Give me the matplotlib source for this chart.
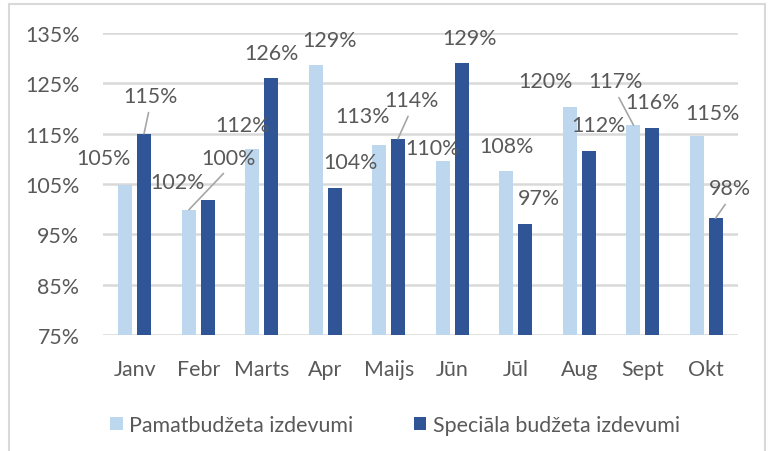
import matplotlib.pyplot as plt
from matplotlib.patches import Rectangle
import numpy as np

# data
months = ['Janv', 'Febr', 'Marts', 'Apr', 'Maijs', 'Jūn', 'Jūl', 'Aug', 'Sept', 'Okt']
pamat = [104.9, 99.9, 112.0, 128.6, 112.8, 109.5, 107.6, 120.2, 116.7, 114.6]
special = [115.0, 101.8, 126.0, 104.2, 114.0, 129.0, 97.1, 111.6, 116.2, 98.2]
series_names = ['Pamatbudžeta izdevumi', 'Speciāla budžeta izdevumi']

# label placement (pixel offsets from bar top) and which ones get leader lines
pamat_off = [(-22, 27), (40, 52), (-10, 24), (14, 25), (-17, 29),
             (-10, 13), (0, 25), (-24, 26), (-18, 44), (16, 23)]
pamat_lead = [False, True, False, False, False, False, False, False, True, False]
special_off = [(6, 38), (-30, 18), (0, 25), (16, 26), (13, 39),
               (8, 25), (14, 26), (10, 26), (0, 26), (14, 30)]
special_lead = [True, False, False, False, True, False, False, False, False, True]

LIGHT = '#BDD7EE'
DARK = '#2F5597'
TEXT = '#595959'
GRID = '#D9D9D9'
FS = 15.4

plt.rcParams['font.family'] = ['Lato', 'DejaVu Sans']

fig = plt.figure(figsize=(7.73, 4.52), dpi=100)
ax = fig.add_axes([103 / 773, 1 - 336 / 452, (738 - 103) / 773, (336 - 34) / 452])

# outer chart border
fig.patches.append(Rectangle((9 / 773, -0.1), (765 - 9) / 773, 1.1 - 5 / 452,
                             transform=fig.transFigure, fill=False,
                             edgecolor=GRID, lw=1.5))

x = np.arange(len(months))
w = 0.22
off = 0.146
b1 = ax.bar(x - off, pamat, w, color=LIGHT, label=series_names[0], zorder=3)
b2 = ax.bar(x + off, special, w, color=DARK, label=series_names[1], zorder=3)


def label_bars(xs, vals, offs, leads):
    for xi, v, (dx, dy), lead in zip(xs, vals, offs, leads):
        props = None
        if lead:
            props = dict(arrowstyle='-', color='#A6A6A6', lw=1.2,
                         relpos=(0.5, 0.0), shrinkA=3, shrinkB=0)
        ax.annotate('{:.0f}%'.format(v), xy=(xi, v), xytext=(dx, dy),
                    textcoords='offset pixels', ha='center', va='center',
                    fontsize=FS, color=TEXT, arrowprops=props, zorder=5,
                    annotation_clip=False)


label_bars(x - off, pamat, pamat_off, pamat_lead)
label_bars(x + off, special, special_off, special_lead)

ax.set_xlim(-0.5, len(months) - 0.5)
ax.set_ylim(75, 135)
yt = np.arange(75, 136, 10)
ax.set_yticks(yt)
ax.set_yticklabels(['{}%'.format(v) for v in yt])
ax.set_xticks(x)
ax.set_xticklabels(months)
ax.tick_params(axis='both', length=0, labelsize=FS, labelcolor=TEXT)
ax.tick_params(axis='y', pad=17)
ax.tick_params(axis='x', pad=17)
for s in ax.spines.values():
    s.set_visible(False)
ax.grid(axis='y', color=GRID, lw=1.8, zorder=0)
ax.set_axisbelow(True)

fig.legend(handles=[b1, b2], loc='center', bbox_to_anchor=(395 / 773, 1 - 426 / 452),
           ncol=2, frameon=False, fontsize=FS, labelcolor=TEXT,
           handlelength=0.6, handleheight=0.6, handletextpad=0.3,
           columnspacing=2.8)

fig.savefig('out.png', dpi=100)
